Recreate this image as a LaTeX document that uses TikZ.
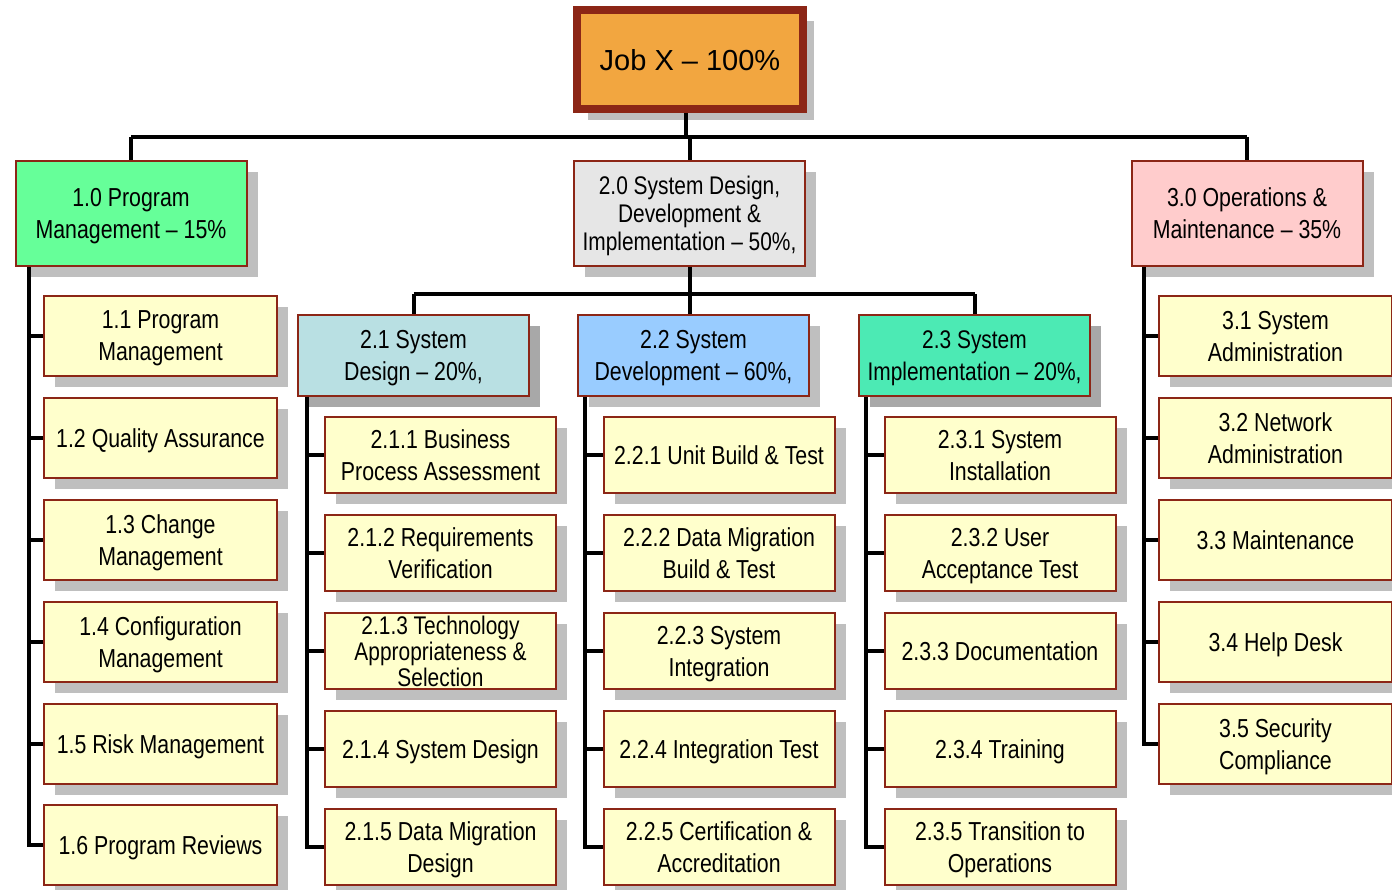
\documentclass[tikz,border=0pt]{standalone}
\usepackage{fontspec}
\setmainfont{Liberation Sans}
\newfontfamily\narrowfont{Liberation Sans}[FakeStretch=0.82]
\usetikzlibrary{shadows}
\definecolor{brd}{RGB}{140,38,22}
\definecolor{jobfill}{RGB}{242,166,64}
\definecolor{pmfill}{RGB}{102,255,153}
\definecolor{sdfill}{RGB}{230,230,230}
\definecolor{omfill}{RGB}{255,204,204}
\definecolor{desfill}{RGB}{185,224,227}
\definecolor{devfill}{RGB}{153,204,255}
\definecolor{impfill}{RGB}{76,234,180}
\definecolor{leaffill}{RGB}{255,255,204}
\definecolor{shd}{RGB}{191,191,191}
\definecolor{shddark}{RGB}{168,168,168}
\begin{document}
\begin{tikzpicture}[x=1pt,y=-1pt,
  conn/.style={line width=4pt, black},
  wbs/.style={draw=brd, line width=2pt, inner sep=0pt, align=center, text depth=0pt,
    font=\narrowfont\fontsize{26}{32}\selectfont,
    drop shadow={shadow xshift=11pt, shadow yshift=-11pt, fill=shd, opacity=1}},
  topbox/.style={wbs, line width=8pt, fill=jobfill, minimum width=226pt, minimum height=99pt,
    font=\fontsize{29}{34}\selectfont},
  lvlone/.style={wbs, minimum width=231pt, minimum height=105pt},
  lvltwo/.style={wbs, minimum width=231pt, minimum height=81pt,
    drop shadow={shadow xshift=11pt, shadow yshift=-11pt, fill=shddark, opacity=1}},
  leafa/.style={wbs, fill=leaffill, minimum width=233pt, minimum height=80pt},
  leafb/.style={wbs, fill=leaffill, minimum width=231pt, minimum height=76pt}
]
\useasboundingbox (0,0) rectangle (1392,890);

% top
\node[topbox] (job) at (690,59.5) {Job X \textendash{} 100\%};

% level 1
\node[lvlone, fill=pmfill] (l10) at (131,213.5) {1.0 Program\\Management \textendash{} 15\%};
\node[lvlone, fill=sdfill, font=\narrowfont\fontsize{25.5}{28}\selectfont] (l20) at (689.5,213.5)
  {2.0 System Design,\\Development \&\\Implementation \textendash{} 50\%,};
\node[lvlone, fill=omfill] (l30) at (1247,213.5) {3.0 Operations \&\\Maintenance \textendash{} 35\%};

% level 2
\node[lvltwo, fill=desfill] (l21) at (413.5,355.5) {2.1 System\\Design \textendash{} 20\%,};
\node[lvltwo, fill=devfill, drop shadow={shadow xshift=11pt, shadow yshift=-11pt, fill=shd, opacity=1}] (l22) at (693.5,355.5) {2.2 System\\Development \textendash{} 60\%,};
\node[lvltwo, fill=impfill, font=\narrowfont\fontsize{25.5}{32}\selectfont] (l23) at (974.5,355.5) {2.3 System\\Implementation \textendash{} 20\%,};

% 1.x
\node[leafa] (l11) at (160.5,336) {1.1 Program\\Management};
\node[leafa] (l12) at (160.5,438) {1.2 Quality Assurance};
\node[leafa] (l13) at (160.5,540) {1.3 Change\\Management};
\node[leafa] (l14) at (160.5,642) {1.4 Configuration\\Management};
\node[leafa] (l15) at (160.5,744) {1.5 Risk Management};
\node[leafa] (l16) at (160.5,845) {1.6 Program Reviews};

% 3.x
\node[leafa] (l31) at (1275.5,336) {3.1 System\\Administration};
\node[leafa] (l32) at (1275.5,438) {3.2 Network\\Administration};
\node[leafa] (l33) at (1275.5,540) {3.3 Maintenance};
\node[leafa] (l34) at (1275.5,642) {3.4 Help Desk};
\node[leafa] (l35) at (1275.5,744) {3.5 Security\\Compliance};

% 2.1.x
\node[leafb] (l211) at (440.5,455) {2.1.1 Business\\Process Assessment};
\node[leafb] (l212) at (440.5,553) {2.1.2 Requirements\\Verification};
\node[leafb, font=\narrowfont\fontsize{25.5}{26}\selectfont] (l213) at (440.5,651) {2.1.3 Technology\\Appropriateness \&\\Selection};
\node[leafb] (l214) at (440.5,749) {2.1.4 System Design};
\node[leafb] (l215) at (440.5,847) {2.1.5 Data Migration\\Design};

% 2.2.x
\node[leafb] (l221) at (719,455) {2.2.1 Unit Build \& Test};
\node[leafb] (l222) at (719,553) {2.2.2 Data Migration\\Build \& Test};
\node[leafb] (l223) at (719,651) {2.2.3 System\\Integration};
\node[leafb] (l224) at (719,749) {2.2.4 Integration Test};
\node[leafb] (l225) at (719,847) {2.2.5 Certification \&\\Accreditation};

% 2.3.x
\node[leafb] (l231) at (1000,455) {2.3.1 System\\Installation};
\node[leafb] (l232) at (1000,553) {2.3.2 User\\Acceptance Test};
\node[leafb] (l233) at (1000,651) {2.3.3 Documentation};
\node[leafb] (l234) at (1000,749) {2.3.4 Training};
\node[leafb] (l235) at (1000,847) {2.3.5 Transition to\\Operations};

% connectors: top bus
\coordinate (busa) at (0,137);
\draw[conn] ([xshift=-4pt]job.south) -- ([xshift=-4pt]job.south |- busa);
\draw[conn] (l10.north |- busa) -- (l30.north |- busa);
\draw[conn] (l10.north |- busa) -- (l10.north);
\draw[conn] (l30.north |- busa) -- (l30.north);
\draw[conn] (l20.north |- busa) -- (l20.north);

% level-2 bus
\coordinate (busb) at (0,294);
\draw[conn] (l20.south) -- (l20.south |- l22.north);
\draw[conn] (l21.north |- busb) -- (l23.north |- busb);
\draw[conn] (l21.north) -- (l21.north |- busb);
\draw[conn] (l23.north) -- (l23.north |- busb);

% spines
\coordinate (s1) at ([xshift=14pt]l10.south west);
\coordinate (s3) at ([xshift=13pt]l30.south west);
\coordinate (s21) at ([xshift=10pt]l21.south west);
\coordinate (s22) at ([xshift=8pt]l22.south west);
\coordinate (s23) at ([xshift=8pt]l23.south west);

\draw[conn] (s1) |- (l16.west);
\foreach \i in {1,...,5} \draw[conn] (l1\i.west) -- (l1\i.west -| s1);
\draw[conn] (s3) |- (l35.west);
\foreach \i in {1,...,4} \draw[conn] (l3\i.west) -- (l3\i.west -| s3);
\draw[conn] (s21) |- (l215.west);
\foreach \i in {1,...,4} \draw[conn] (l21\i.west) -- (l21\i.west -| s21);
\draw[conn] (s22) |- (l225.west);
\foreach \i in {1,...,4} \draw[conn] (l22\i.west) -- (l22\i.west -| s22);
\draw[conn] (s23) |- (l235.west);
\foreach \i in {1,...,4} \draw[conn] (l23\i.west) -- (l23\i.west -| s23);
\end{tikzpicture}
\end{document}
